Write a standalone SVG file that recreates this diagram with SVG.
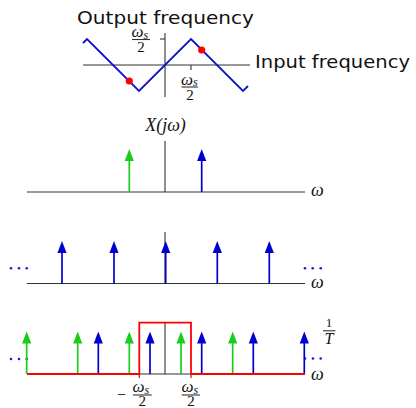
<svg xmlns="http://www.w3.org/2000/svg" width="416" height="408" viewBox="0 0 416 408">
<style>
.ax{stroke:#333;stroke-width:1.1;fill:none}
.bl{stroke:#0000cc;stroke-width:1.7;fill:none;marker-end:url(#hb)}
.gr{stroke:#1ccc1c;stroke-width:1.7;fill:none;marker-end:url(#hg)}
.sans{font-family:"DejaVu Sans",sans-serif;font-size:17px;fill:#111}
.m{font-family:'Liberation Serif','Times New Roman',serif;font-style:italic;font-size:17px;fill:#111}
.n{font-family:'Liberation Serif','Times New Roman',serif;font-size:15px;fill:#111}
.sub{font-size:12px}
.dot{fill:#1a1ad6}
</style>
<defs>
<marker id="hb" markerUnits="userSpaceOnUse" viewBox="0 -5 12 10" refX="6" refY="0" markerWidth="12" markerHeight="10" orient="auto"><path d="M0,-4.6 L12,0 L0,4.6 z" fill="#0000cc"/></marker>
<marker id="hg" markerUnits="userSpaceOnUse" viewBox="0 -5 12 10" refX="6" refY="0" markerWidth="12" markerHeight="10" orient="auto"><path d="M0,-4.6 L12,0 L0,4.6 z" fill="#1ccc1c"/></marker>
</defs>

<g id="aliasing-plot">
<line class="ax" x1="83" y1="65" x2="250" y2="65"/>
<line class="ax" x1="165" y1="33" x2="165" y2="97"/>
<line class="ax" x1="160" y1="39" x2="165" y2="39"/>
<line class="ax" x1="191" y1="65" x2="191" y2="70"/>
<polyline points="83,43 87,39 139,91 191,39 243,91 248,86" fill="none" stroke="#1010cc" stroke-width="1.8"/>
<circle cx="129.3" cy="81" r="3.6" fill="#ff0000"/>
<circle cx="201.7" cy="50" r="3.6" fill="#ff0000"/>
<text class="sans" x="77" y="24" textLength="177" lengthAdjust="spacingAndGlyphs">Output frequency</text>
<text class="sans" x="255" y="68" textLength="155" lengthAdjust="spacingAndGlyphs">Input frequency</text>
<text class="m" x="131.5" y="37">ω<tspan class="sub" dy="1.5">s</tspan></text>
<line class="ax" x1="132" y1="39.5" x2="150" y2="39.5"/>
<text class="n" x="141" y="51.5" text-anchor="middle">2</text>
<text class="m" x="181" y="84.5">ω<tspan class="sub" dy="1.5">s</tspan></text>
<line class="ax" x1="181.5" y1="87" x2="198" y2="87"/>
<text class="n" x="190" y="99.5" text-anchor="middle">2</text>
</g>

<g id="spectrum-x">
<text class="m" x="165.5" y="131" text-anchor="middle" style="font-size:18px">X(jω)</text>
<line class="ax" x1="27" y1="192" x2="305" y2="192"/>
<line class="ax" x1="165" y1="141" x2="165" y2="192"/>
<line class="gr" x1="129.3" y1="192" x2="129.3" y2="155"/>
<line class="bl" x1="201.7" y1="192" x2="201.7" y2="155"/>
<text class="m" x="311" y="196" style="font-size:18px">ω</text>
</g>

<g id="impulse-train">
<line class="ax" x1="27" y1="283.5" x2="305" y2="283.5"/>
<line class="ax" x1="165" y1="232" x2="165" y2="283.5"/>
<line class="bl" x1="62" y1="283.5" x2="62" y2="247"/>
<line class="bl" x1="114" y1="283.5" x2="114" y2="247"/>
<line class="bl" x1="165.7" y1="283.5" x2="165.7" y2="247"/>
<line class="bl" x1="217.3" y1="283.5" x2="217.3" y2="247"/>
<line class="bl" x1="269.3" y1="283.5" x2="269.3" y2="247"/>
<circle class="dot" cx="11" cy="268.3" r="1.3"/>
<circle class="dot" cx="19" cy="268.3" r="1.3"/>
<circle class="dot" cx="26.7" cy="268.3" r="1.3"/>
<circle class="dot" cx="305" cy="268.3" r="1.3"/>
<circle class="dot" cx="312.7" cy="268.3" r="1.3"/>
<circle class="dot" cx="320.7" cy="268.3" r="1.3"/>
<text class="m" x="311" y="288" style="font-size:18px">ω</text>
</g>

<g id="sampled-spectrum">
<line class="ax" x1="27" y1="374" x2="305" y2="374"/>
<line class="ax" x1="165" y1="322.7" x2="165" y2="374"/>
<line class="ax" x1="139.3" y1="374" x2="139.3" y2="378"/>
<line class="ax" x1="191" y1="374" x2="191" y2="378"/>
<circle class="dot" cx="11" cy="359" r="1.3"/>
<circle class="dot" cx="19" cy="359" r="1.3"/>
<circle class="dot" cx="26.7" cy="359" r="1.3"/>
<circle class="dot" cx="305" cy="358.5" r="1.3"/>
<circle class="dot" cx="313" cy="358.5" r="1.3"/>
<circle class="dot" cx="320.7" cy="358.5" r="1.3"/>
<line class="gr" x1="26.7" y1="374" x2="26.7" y2="337.5"/>
<line class="gr" x1="77.7" y1="374" x2="77.7" y2="337.5"/>
<line class="bl" x1="98.3" y1="374" x2="98.3" y2="337.5"/>
<line class="gr" x1="129.3" y1="374" x2="129.3" y2="337.5"/>
<line class="bl" x1="150" y1="374" x2="150" y2="337.5"/>
<line class="gr" x1="181" y1="374" x2="181" y2="337.5"/>
<line class="bl" x1="201.7" y1="374" x2="201.7" y2="337.5"/>
<line class="gr" x1="232.7" y1="374" x2="232.7" y2="337.5"/>
<line class="bl" x1="253.3" y1="374" x2="253.3" y2="337.5"/>
<line class="bl" x1="304.3" y1="374" x2="304.3" y2="337.5"/>
<path d="M27,374 H139.3 V322.7 H191 V374 H305" fill="none" stroke="#ff0000" stroke-width="1.8"/>
<text class="m" x="311" y="380" style="font-size:18px">ω</text>
<text class="n" x="329" y="327" text-anchor="middle" style="font-size:13px">1</text>
<line class="ax" x1="323" y1="330.8" x2="335.5" y2="330.8"/>
<text class="m" x="329" y="344" text-anchor="middle" style="font-size:16px">T</text>
<text class="n" x="117" y="399.5" style="font-size:16px">−</text>
<text class="m" x="132.5" y="392">ω<tspan class="sub" dy="1.5">s</tspan></text>
<line class="ax" x1="133" y1="395" x2="151.7" y2="395"/>
<text class="n" x="142.3" y="405.5" text-anchor="middle">2</text>
<text class="m" x="181.5" y="392">ω<tspan class="sub" dy="1.5">s</tspan></text>
<line class="ax" x1="181.7" y1="395" x2="200" y2="395"/>
<text class="n" x="191" y="405.5" text-anchor="middle">2</text>
</g>
</svg>
